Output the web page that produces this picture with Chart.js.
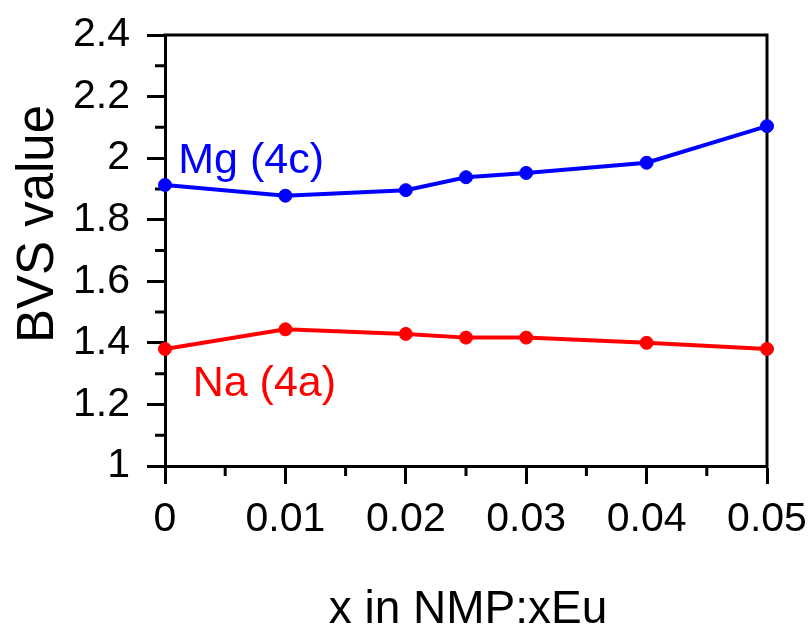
<!DOCTYPE html>
<html>
<head>
<meta charset="utf-8">
<script src="https://cdn.jsdelivr.net/npm/chart.js@4.4.1/dist/chart.umd.min.js"></script>
<style>
  html, body { margin: 0; padding: 0; background: #ffffff; }
  #wrap { width: 812px; height: 631px; }
</style>
</head>
<body>
<div id="wrap"><canvas id="bvs" width="812" height="631"></canvas></div>
<script>
// Eu content x in NMP:xEu
const xValues = [0, 0.01, 0.02, 0.025, 0.03, 0.04, 0.05];
// Bond valence sums per site
const mgBVS = [1.913, 1.878, 1.896, 1.938, 1.952, 1.985, 2.104];
const naBVS = [1.380, 1.444, 1.429, 1.417, 1.417, 1.400, 1.380];

const xTickValues = [0, 0.01, 0.02, 0.03, 0.04, 0.05];
const xTickLabels = ['0', '0.01', '0.02', '0.03', '0.04', '0.05'];
const yTickValues = [1, 1.2, 1.4, 1.6, 1.8, 2, 2.2, 2.4];
const yTickLabels = ['1', '1.2', '1.4', '1.6', '1.8', '2', '2.2', '2.4'];
const xMinorValues = [0.005, 0.015, 0.025, 0.035, 0.045];
const yMinorValues = [1.1, 1.3, 1.5, 1.7, 1.9, 2.1, 2.3];

const seriesNames = ['Mg (4c)', 'Na (4a)'];
const xTitle = 'x in NMP:xEu';
const yTitle = 'BVS value';

const FONT = '"Liberation Sans", Arial, sans-serif';
const BLUE = '#0000ff';
const RED = '#ff0000';

const toPoints = ys => xValues.map((x, i) => ({ x: x, y: ys[i] }));

// Frame, minor ticks, in-plot labels and axis titles
const decorations = {
  id: 'decorations',
  beforeDatasetsDraw(chart) {
    const { ctx, chartArea: a, scales } = chart;
    ctx.save();
    ctx.strokeStyle = '#000';
    ctx.lineWidth = 3;
    ctx.lineCap = 'square';
    ctx.beginPath();
    ctx.moveTo(a.left, a.top);
    ctx.lineTo(a.right, a.top);
    ctx.lineTo(a.right, a.bottom);
    ctx.stroke();
    ctx.lineCap = 'butt';
    ctx.beginPath();
    xMinorValues.forEach(v => {
      const px = scales.x.getPixelForValue(v);
      ctx.moveTo(px, a.bottom);
      ctx.lineTo(px, a.bottom + 10);
    });
    yMinorValues.forEach(v => {
      const py = scales.y.getPixelForValue(v);
      ctx.moveTo(a.left, py);
      ctx.lineTo(a.left - 10, py);
    });
    ctx.stroke();
    ctx.restore();
  },
  afterDraw(chart) {
    const { ctx, chartArea: a, scales } = chart;
    ctx.save();
    ctx.textBaseline = 'alphabetic';
    ctx.font = '43px ' + FONT;
    ctx.textAlign = 'left';
    ctx.fillStyle = BLUE;
    ctx.fillText(seriesNames[0], scales.x.getPixelForValue(0.0011), scales.y.getPixelForValue(1.952));
    ctx.fillStyle = RED;
    ctx.fillText(seriesNames[1], scales.x.getPixelForValue(0.0023), scales.y.getPixelForValue(1.227));

    ctx.fillStyle = '#000';
    ctx.font = '46px ' + FONT;
    ctx.textAlign = 'center';
    ctx.fillText(xTitle, (a.left + a.right) / 2 + 2, 623);

    ctx.font = '51px ' + FONT;
    ctx.translate(53, 224);
    ctx.rotate(-Math.PI / 2);
    ctx.fillText(yTitle, 0, 0);
    ctx.restore();
  }
};

new Chart(document.getElementById('bvs'), {
  type: 'line',
  data: {
    datasets: [
      {
        label: seriesNames[0],
        data: toPoints(mgBVS),
        borderColor: BLUE,
        backgroundColor: BLUE,
        borderWidth: 4,
        pointRadius: 6.5,
        pointBorderWidth: 1,
        pointHoverRadius: 6.5,
        tension: 0,
        clip: false
      },
      {
        label: seriesNames[1],
        data: toPoints(naBVS),
        borderColor: RED,
        backgroundColor: RED,
        borderWidth: 4,
        pointRadius: 6.5,
        pointBorderWidth: 1,
        pointHoverRadius: 6.5,
        tension: 0,
        clip: false
      }
    ]
  },
  options: {
    responsive: false,
    animation: false,
    devicePixelRatio: 1,
    layout: { padding: { top: 35, right: 45, left: 0, bottom: 0 } },
    plugins: {
      legend: { display: false },
      tooltip: { enabled: false }
    },
    scales: {
      x: {
        type: 'linear',
        min: 0,
        max: 0.05,
        afterBuildTicks: s => { s.ticks = xTickValues.map(v => ({ value: v })); },
        afterFit: s => { s.height = 165; s.paddingLeft = 0; s.paddingRight = 0; },
        ticks: {
          color: '#000',
          font: { family: FONT, size: 41 },
          padding: 11,
          maxRotation: 0,
          autoSkip: false,
          callback: (v, i) => xTickLabels[i]
        },
        grid: {
          drawOnChartArea: false,
          drawTicks: true,
          tickLength: 18,
          tickWidth: 3,
          tickColor: '#000'
        },
        border: { display: true, color: '#000', width: 3 }
      },
      y: {
        type: 'linear',
        min: 1,
        max: 2.4,
        afterBuildTicks: s => { s.ticks = yTickValues.map(v => ({ value: v })); },
        afterFit: s => { s.width = 165; s.paddingTop = 0; s.paddingBottom = 0; },
        ticks: {
          color: '#000',
          font: { family: FONT, size: 41 },
          padding: 17,
          autoSkip: false,
          callback: (v, i) => yTickLabels[i]
        },
        grid: {
          drawOnChartArea: false,
          drawTicks: true,
          tickLength: 18,
          tickWidth: 3,
          tickColor: '#000'
        },
        border: { display: true, color: '#000', width: 3 }
      }
    }
  },
  plugins: [decorations]
});
</script>
</body>
</html>
